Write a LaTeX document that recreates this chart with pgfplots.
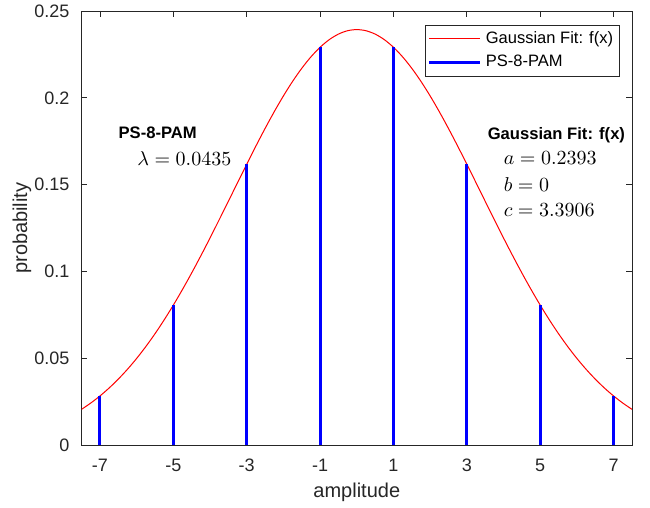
\documentclass[border=0pt]{standalone}
\usepackage{fontspec}
\setmainfont{Liberation Sans}
\usepackage{pgfplots}
\pgfplotsset{compat=1.18}
\definecolor{axgray}{rgb}{0.15,0.15,0.15}
\definecolor{mblue}{rgb}{0,0,1}
\begin{document}
\begin{tikzpicture}
\begin{axis}[
  scale only axis,
  width=275pt, height=217pt,
  xmin=-7.5, xmax=7.5, ymin=0, ymax=0.25,
  axis line style={axgray, line width=0.4pt},
  tick style={axgray, line width=0.4pt},
  tick align=inside, major tick length=2.75pt,
  xtick={-7,-5,-3,-1,1,3,5,7},
  xticklabels={-7,-5,-3,-1,1,3,5,7},
  ytick={0,0.05,0.1,0.15,0.2,0.25},
  yticklabels={0,0.05,0.1,0.15,0.2,0.25},
  ticklabel style={font=\fontsize{9}{10}\selectfont, text=axgray},
  xticklabel style={yshift=-3.5pt},
  yticklabel style={xshift=-2.5pt},
  xlabel={amplitude}, ylabel={probability},
  label style={font=\fontsize{10}{11}\selectfont, text=axgray},
  xlabel style={at={(axis description cs:0.5,-0.1083)}, anchor=center},
  ylabel style={at={(axis description cs:-0.1082,0.5)}, anchor=center},
  legend style={at={(axis description cs:0.9773,0.9677)}, anchor=north east,
    draw=axgray, line width=0.4pt, font=\fontsize{8.25}{9.5}\selectfont,
    inner xsep=1pt, inner ysep=1pt, row sep=0.5pt,
    cells={anchor=west, text=black}},
  legend cell align=left,
]
\addplot[red, line width=0.5pt, smooth,
  legend image code/.code={\draw[red, line width=0.5pt] (0pt,0pt) -- (25.5pt,0pt);}]
coordinates {
(-7.5,0.02072) (-7.25,0.02433) (-7,0.02840) (-6.75,0.03298) (-6.5,0.03810)
(-6.25,0.04376) (-6,0.04999) (-5.75,0.05681) (-5.5,0.06420) (-5.25,0.07217)
(-5,0.08067) (-4.75,0.08970) (-4.5,0.09919) (-4.25,0.10909) (-4,0.11932)
(-3.75,0.12982) (-3.5,0.14046) (-3.25,0.15116) (-3,0.16179) (-2.75,0.17223)
(-2.5,0.18234) (-2.25,0.19201) (-2,0.20109) (-1.75,0.20946) (-1.5,0.21699)
(-1.25,0.22358) (-1,0.22912) (-0.75,0.23352) (-0.5,0.23671) (-0.25,0.23865)
(0,0.23930)
(0.25,0.23865) (0.5,0.23671) (0.75,0.23352) (1,0.22912) (1.25,0.22358)
(1.5,0.21699) (1.75,0.20946) (2,0.20109) (2.25,0.19201) (2.5,0.18234)
(2.75,0.17223) (3,0.16179) (3.25,0.15116) (3.5,0.14046) (3.75,0.12982)
(4,0.11932) (4.25,0.10909) (4.5,0.09919) (4.75,0.08970) (5,0.08067)
(5.25,0.07217) (5.5,0.06420) (5.75,0.05681) (6,0.04999) (6.25,0.04376)
(6.5,0.03810) (6.75,0.03298) (7,0.02840) (7.25,0.02433) (7.5,0.02072)
};
\addlegendentry{Gaussian Fit: f(x)}
\addplot[ycomb, mblue, line width=1.5pt, mark=none,
  legend image code/.code={\draw[mblue, line width=1.5pt] (0pt,0pt) -- (25.5pt,0pt);}]
coordinates {
(-7,0.0284) (-5,0.0807) (-3,0.1618) (-1,0.2291)
(1,0.2291) (3,0.1618) (5,0.0807) (7,0.0284)
};
\addlegendentry{PS-8-PAM}
\node[anchor=west, inner sep=0pt, font=\fontsize{8.3}{9.5}\selectfont\bfseries] at (axis cs:-6.50,0.1797) {PS-8-PAM};
\node[anchor=west, inner sep=0pt, font=\fontsize{9.6}{11}\selectfont] at (axis cs:-5.99,0.1653) {$\lambda = 0.0435$};
\node[anchor=west, inner sep=0pt, font=\fontsize{8.3}{9.5}\selectfont\bfseries] at (axis cs:3.56,0.1786) {Gaussian Fit: f(x)};
\node[anchor=west, inner sep=0pt, font=\fontsize{9.6}{11}\selectfont] at (axis cs:3.995,0.1653) {$a = 0.2393$};
\node[anchor=west, inner sep=0pt, font=\fontsize{9.6}{11}\selectfont] at (axis cs:3.995,0.1503) {$b = 0$};
\node[anchor=west, inner sep=0pt, font=\fontsize{9.6}{11}\selectfont] at (axis cs:3.995,0.1354) {$c = 3.3906$};
\end{axis}
\pgfresetboundingbox
\path (current axis.south west) ++(-40.75pt,-31pt) coordinate (bbA);
\path (current axis.north east) ++(9pt,5.5pt) coordinate (bbB);
\path[use as bounding box] (bbA) rectangle (bbB);
\end{tikzpicture}
\end{document}
